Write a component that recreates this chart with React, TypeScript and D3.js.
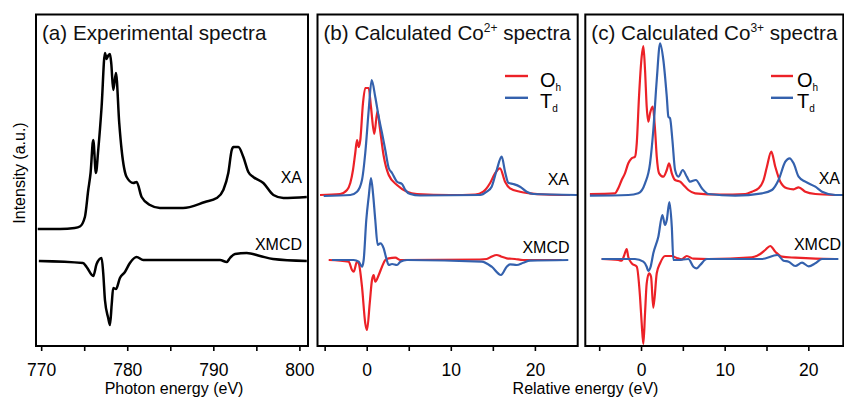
import * as React from 'react';
import * as d3 from 'd3';

// energies (eV) and intensities (a.u.)
const expXA = [[769.6,0],[772.2,0],[773.9,0.1],[774.5,0.25],[775.08,1.2],[775.47,3.9],[775.74,5.6],[776.05,8.9],[776.36,5.6],[776.63,7.9],[777.02,12.2],[777.41,17.6],[777.6,17.0],[777.76,17.3],[777.99,17.5],[778.15,16.5],[778.37,13.9],[778.69,15.6],[779.07,10.6],[779.35,7.9],[779.93,5.2],[780.7,4.6],[781.09,4.7],[781.67,3.2],[782.64,2.4],[783.8,2.1],[786.48,2.1],[789.03,2.7],[790.4,3.1],[791.16,3.9],[791.74,5.6],[792.14,7.9],[792.33,8.2],[792.91,8.2],[793.49,7.2],[794.07,5.7],[794.65,5.2],[795.81,4.6],[796.98,3.4],[798.14,3.1],[800.86,3.2]];
const expXMCD = [[769.73,0],[774.85,-0.2],[775.28,-0.6],[776.05,-1.5],[776.44,-0.3],[777.02,0.3],[777.21,-1.2],[777.41,-3.9],[777.79,-5.7],[777.99,-6.4],[778.19,-4.4],[778.37,-2.7],[778.69,-2.8],[779.15,-1.7],[779.73,-1.1],[780.31,-0.2],[781.09,0.4],[781.86,0.1],[782.64,0.1],[790.78,0.1],[791.56,-0.1],[791.94,0.3],[792.52,0.7],[793.88,0.8],[795.43,0.5],[796.94,0.2],[800.86,0]];

const co2OhXA = [[-5.55,0],[-3.17,0.1],[-2.34,0.5],[-1.95,1.2],[-1.63,2.5],[-1.36,4.2],[-1.15,5.5],[-0.95,4.8],[-0.76,5.5],[-0.44,9.2],[-0.17,10.7],[0.24,10.7],[0.51,8.8],[0.9,6.1],[1.28,8.4],[1.55,6.8],[2.0,4.0],[2.62,2.0],[3.6,1.0],[4.79,0.33],[5.98,0.1],[9.9,0],[12.9,0.05],[13.86,0.33],[14.66,1.17],[15.26,2.17],[15.85,2.67],[16.45,1.33],[17.04,0.67],[18.23,0.33],[19.42,0.17],[21.2,0.05],[24.2,0]];
const co2TdXA = [[-5.11,-0.1],[-1.95,0],[-1.15,0.33],[-0.56,1.5],[-0.17,4.2],[0.24,8.5],[0.59,11.5],[1.02,9.8],[1.43,7.8],[1.82,6.2],[2.21,4.5],[2.62,2.7],[3.01,2.2],[3.6,1.33],[4.2,1.1],[4.59,0.5],[5.18,0.1],[6.34,-0.05],[13.5,0],[14.27,0.33],[14.86,0.83],[15.46,2.5],[16.05,3.83],[16.45,2.33],[16.84,1.23],[17.43,1.1],[18.23,0.83],[19.02,0.33],[19.81,0.1],[25.0,0]];
const co2OhXMCD = [[-4.52,0],[-2.14,-0.17],[-1.75,-1.0],[-1.55,-1.17],[-1.15,-0.17],[-0.95,-0.33],[-0.56,-2.67],[-0.17,-6.33],[0.04,-7.0],[0.36,-4.33],[0.63,-2.0],[0.83,-1.5],[1.02,-2.17],[1.43,-1.5],[1.82,-0.67],[2.21,0],[2.62,0.17],[3.4,0.23],[4.0,0],[13.47,0.05],[14.27,0.1],[14.86,0.35],[15.46,0.5],[15.97,0.35],[16.65,0.17],[17.63,0.1],[18.59,0],[23.19,0]];
const co2TdXMCD = [[-4.13,0],[-1.55,0],[-0.95,-0.17],[-0.56,-0.67],[-0.36,0],[-0.05,4.0],[0.24,6.33],[0.51,8.2],[0.75,6.67],[1.02,4.0],[1.31,1.5],[1.62,1.67],[2.02,1.17],[2.33,0.17],[2.62,-0.5],[3.01,-0.4],[3.6,-0.5],[4.0,-0.17],[4.79,0],[13.67,-0.17],[14.86,-0.67],[15.97,-1.5],[16.65,-0.67],[17.04,-0.43],[17.84,-0.5],[18.62,-0.27],[19.42,-0.07],[23.97,0]];

const co3OhXA = [[-6.11,0.1],[-3.11,0.17],[-2.72,0.67],[-2.31,1.5],[-1.92,2.17],[-1.52,3.17],[-1.11,3.67],[-0.72,3.83],[-0.51,5.17],[-0.24,9.83],[0.08,13.83],[0.28,14.9],[0.48,12.5],[0.68,8.83],[0.87,7.33],[1.08,8.17],[1.4,8.83],[1.68,6.5],[1.88,3.83],[2.16,2.17],[2.67,1.83],[3.08,2.5],[3.35,3.17],[3.68,2.17],[4.07,1.5],[4.67,1.33],[5.07,1.0],[5.66,0.5],[6.47,0.17],[9.46,0.05],[12.46,0.1],[13.26,0.33],[14.05,0.67],[14.65,1.5],[15.05,2.83],[15.57,4.33],[16.05,2.83],[16.65,1.33],[17.45,0.67],[18.24,0.57],[18.84,0.77],[19.64,0.33],[20.84,0.1],[23.23,0]];
const co3TdXA = [[-6.11,-0.07],[-1.52,0],[-0.32,0.17],[0.48,1.17],[1.08,3.17],[1.47,6.5],[1.88,11.5],[2.28,15.17],[2.67,13.5],[3.08,9.83],[3.27,7.83],[3.47,7.67],[3.75,5.5],[4.07,2.5],[4.47,1.83],[4.99,2.5],[5.47,1.83],[5.87,1.33],[6.55,1.5],[7.27,0.67],[8.06,0.1],[11.26,-0.07],[14.46,0.17],[15.65,0.5],[16.44,1.5],[17.25,3.33],[17.76,3.67],[18.24,3.17],[18.84,1.83],[19.64,1.33],[20.84,0.83],[21.64,0.33],[23.23,0],[24.2,0]];
const co3OhXMCD = [[-4.71,0],[-2.72,-0.1],[-2.31,-0.17],[-2.04,0.3],[-1.71,1.0],[-1.52,0.2],[-1.11,-0.43],[-0.51,-0.77],[-0.12,-3.77],[0.08,-6.43],[0.28,-8.5],[0.48,-5.43],[0.68,-2.43],[0.96,-1.43],[1.2,-1.77],[1.47,-4.87],[1.88,-1.43],[2.28,-0.43],[2.87,0.3],[3.68,0.3],[4.28,0.1],[4.87,-0.03],[5.47,0.3],[6.26,0.03],[8.06,0],[13.26,0.17],[14.25,0.5],[14.85,0.9],[15.45,1.3],[16.05,0.73],[16.85,0.23],[18.44,0.13],[20.84,0.03],[23.23,0]];
const co3TdXMCD = [[-4.71,0],[-0.72,0],[0.28,-0.27],[0.68,-0.77],[0.87,-1.2],[1.14,-0.8],[1.47,0.57],[2.07,2.23],[2.55,4.4],[2.87,3.4],[3.08,3.9],[3.39,5.7],[3.68,3.23],[3.87,-0.1],[4.47,-0.1],[5.66,0],[6.26,-0.77],[6.67,-0.93],[7.07,-0.6],[7.87,0],[14.46,0],[16.29,0.4],[17.04,-0.17],[17.64,-0.27],[18.44,-0.7],[19.25,-0.37],[20.04,-0.73],[20.84,-0.43],[21.64,0],[23.59,0]];

// vertical offsets of the stacked spectra
const xaOffset = [11.7, 15.1, 15.1];
const xmcdOffset = [8.5, 8.6, 8.7];

const expTicks = [770, 775, 780, 785, 790, 795, 800];
const relTicks = [-5, 0, 5, 10, 15, 20];

const FONT = 'Arial, "Liberation Sans", Helvetica, sans-serif';
const RED = '#ec2127';
const BLUE = '#3461ad';

export default function App() {
  const ref = React.useRef<SVGSVGElement>(null);

  React.useEffect(() => {
    const svg = d3.select(ref.current);
    svg.selectAll('*').remove();

    const top = 14.5, bottom = 346;
    const y = d3.scaleLinear().domain([0, 33.15]).range([bottom, top]);

    const panels = [
      {x0: 36, x1: 308, domain: [769.4, 801.0], ticks: expTicks, title: ['(a) Experimental spectra'],
        series: [{d: expXA, off: xaOffset[0], c: '#000'}, {d: expXMCD, off: xmcdOffset[0], c: '#000'}],
        xa: [302, 182.5], xmcd: [302, 250], legend: null},
      {x0: 317.5, x1: 577.7, domain: [-5.85, 25.09], ticks: relTicks, title: ['(b) Calculated Co', '2+', ' spectra'],
        series: [{d: co2OhXA, off: xaOffset[1], c: RED}, {d: co2TdXA, off: xaOffset[1], c: BLUE},
          {d: co2OhXMCD, off: xmcdOffset[1], c: RED}, {d: co2TdXMCD, off: xmcdOffset[1], c: BLUE}],
        xa: [569, 185], xmcd: [569.5, 252.5], legend: [505, 528, 540]},
      {x0: 585.3, x1: 843.3, domain: [-6.66, 24.18], ticks: relTicks, title: ['(c) Calculated Co', '3+', ' spectra'],
        series: [{d: co3OhXA, off: xaOffset[2], c: RED}, {d: co3TdXA, off: xaOffset[2], c: BLUE},
          {d: co3OhXMCD, off: xmcdOffset[2], c: RED}, {d: co3TdXMCD, off: xmcdOffset[2], c: BLUE}],
        xa: [840, 183.5], xmcd: [841, 250], legend: [771, 793, 797]},
    ];

    panels.forEach((p, i) => {
      const x = d3.scaleLinear().domain(p.domain).range([p.x0, p.x1]);
      const g = svg.append('g');

      g.append('clipPath').attr('id', 'clip' + i)
        .append('rect').attr('x', p.x0).attr('y', top).attr('width', p.x1 - p.x0).attr('height', bottom - top);

      const plot = g.append('g').attr('clip-path', `url(#clip${i})`);
      p.series.forEach(s => {
        const line = d3.line<number[]>()
          .x(d => x(d[0]))
          .y(d => y(d[1] + s.off))
          .curve(d3.curveMonotoneX);
        plot.append('path').attr('d', line(s.d)).attr('fill', 'none')
          .attr('stroke', s.c).attr('stroke-width', i === 0 ? 2.5 : 2.2).attr('stroke-linejoin', 'round');
      });

      const axis = g.append('g').attr('transform', `translate(0,${bottom})`)
        .call(d3.axisBottom(x).tickValues(p.ticks).tickSize(5)
          .tickFormat(d => (+d % 10 === 0 ? String(d) : '')));
      axis.select('.domain').remove();
      axis.selectAll('line').attr('stroke', '#000').attr('stroke-width', 1.6);
      axis.selectAll('text').attr('y', 30).attr('dy', 0)
        .attr('font-size', 17.5).attr('font-family', FONT).attr('fill', '#000');

      g.append('rect').attr('x', p.x0).attr('y', top).attr('width', p.x1 - p.x0).attr('height', bottom - top)
        .attr('fill', 'none').attr('stroke', '#000').attr('stroke-width', 2);

      const t = g.append('text').attr('x', p.x0 + 6).attr('y', 39.5)
        .attr('font-size', 20.6).attr('font-family', FONT).attr('fill', '#111');
      t.append('tspan').text(p.title[0]);
      if (p.title.length > 1) {
        t.append('tspan').attr('dy', -8).attr('font-size', 12).text(p.title[1]);
        t.append('tspan').attr('dy', 8).text(p.title[2]);
      }

      g.append('text').attr('x', p.xa[0]).attr('y', p.xa[1]).attr('text-anchor', 'end')
        .attr('font-size', 16).attr('font-family', FONT).text('XA');
      g.append('text').attr('x', p.xmcd[0]).attr('y', p.xmcd[1]).attr('text-anchor', 'end')
        .attr('font-size', 16).attr('font-family', FONT).text('XMCD');

      if (p.legend) {
        const [l0, l1, tx] = p.legend;
        [['O', 'h', RED, 76], ['T', 'd', BLUE, 97.8]].forEach(([a, b, c, ly]) => {
          g.append('line').attr('x1', l0).attr('x2', l1).attr('y1', ly).attr('y2', ly)
            .attr('stroke', c as string).attr('stroke-width', 2.4);
          const lt = g.append('text').attr('x', tx).attr('y', (ly as number) + 10.5)
            .attr('font-size', 20).attr('font-family', FONT);
          lt.append('tspan').text(a as string);
          lt.append('tspan').attr('dy', 4).attr('font-size', 10).text(b as string);
        });
      }
    });

    svg.append('text').attr('transform', 'translate(25,173) rotate(-90)').attr('text-anchor', 'middle')
      .attr('font-size', 16).attr('font-family', FONT).text('Intensity (a.u.)');
    svg.append('text').attr('x', 174).attr('y', 394).attr('text-anchor', 'middle')
      .attr('font-size', 16).attr('font-family', FONT).text('Photon energy (eV)');
    svg.append('text').attr('x', 585.5).attr('y', 394).attr('text-anchor', 'middle')
      .attr('font-size', 16).attr('font-family', FONT).text('Relative energy (eV)');
  }, []);

  return (
    <svg ref={ref} width={844} height={397}
      style={{position: 'absolute', left: 0, top: 0, background: '#fff'}} />
  );
}
